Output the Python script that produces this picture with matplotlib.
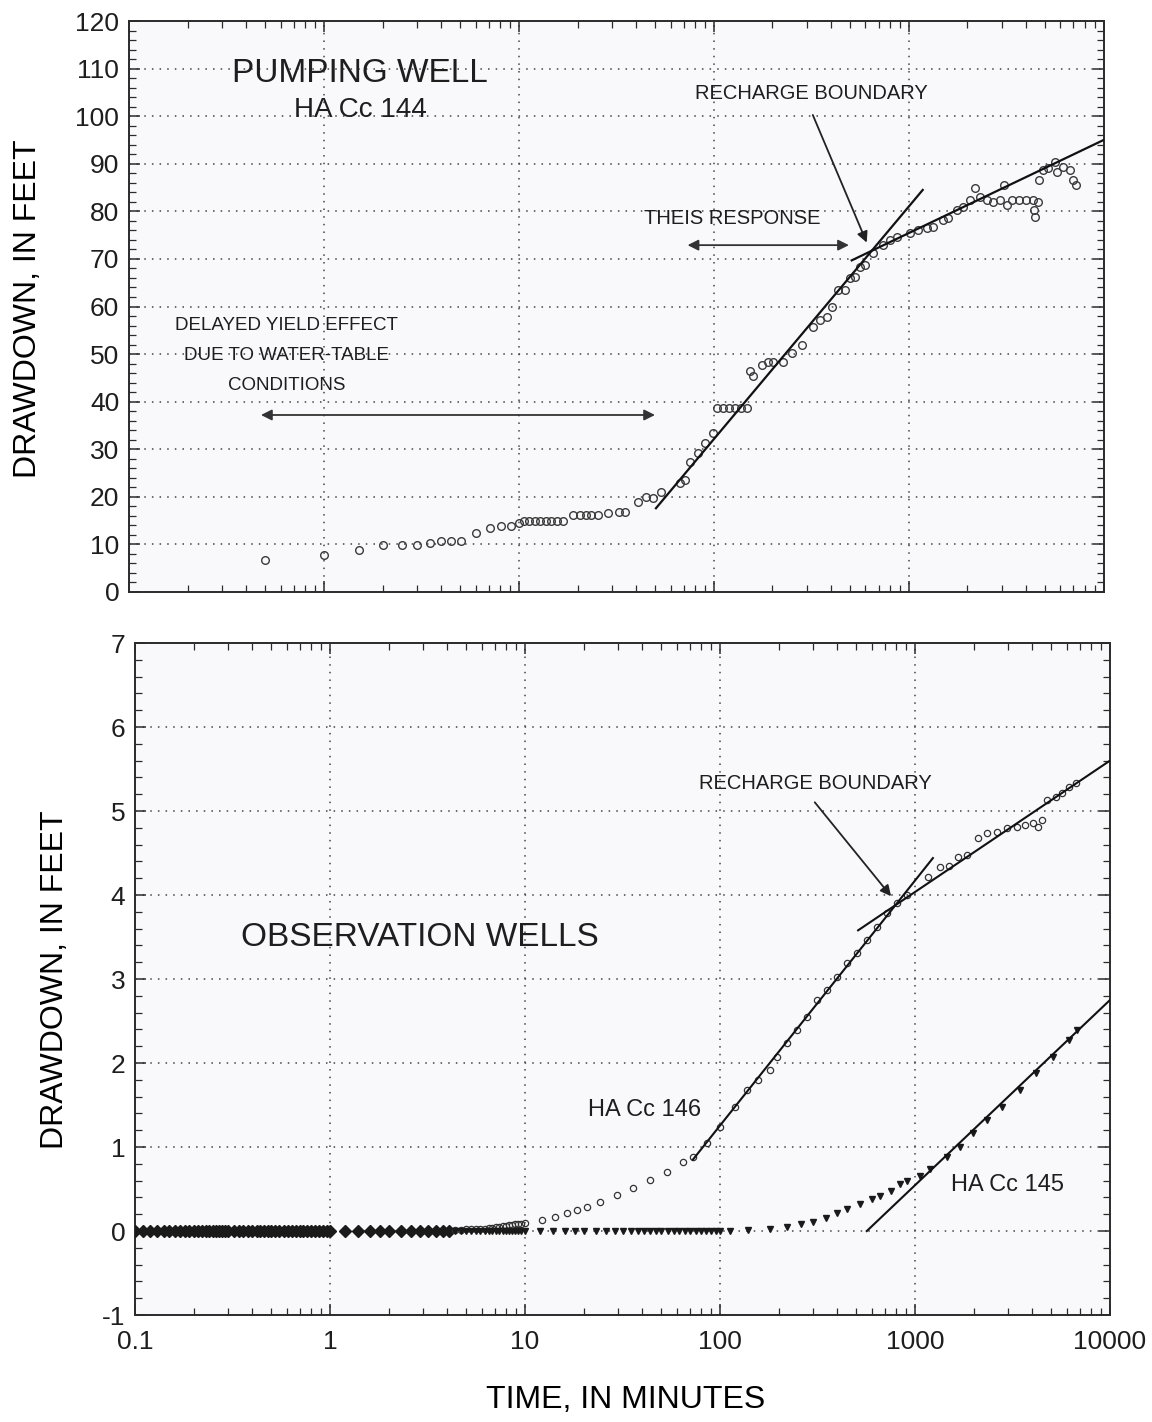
import numpy as np
import matplotlib
matplotlib.use("Agg")
import matplotlib.pyplot as plt
import matplotlib.ticker as mticker

plt.rcParams["font.family"] = ["Liberation Sans", "DejaVu Sans"]
plt.rcParams["axes.unicode_minus"] = False
NARROW = ["Liberation Sans Narrow", "Liberation Sans", "DejaVu Sans"]

# Pumping well HA Cc 144 (time in minutes, drawdown in feet)
PW_T = [0.50, 1.0, 1.51, 2.0, 2.5, 3.0, 3.5, 4.0, 4.5, 5.05, 6.0, 7.1, 8.1, 9.1, 10,
        10.6, 11.3, 12.1, 12.9, 13.8, 14.7, 15.7, 16.8,
        19, 20.5, 22, 23.5, 25.5, 28.5, 32.6, 34.9, 40.9, 44.7, 48.9, 53.6,
        67, 71, 75.4, 82.8, 90, 98.8,
        103.6, 111, 119, 128, 138, 148, 153, 158, 176, 189, 201, 226, 251, 283,
        322, 350, 380, 403, 432, 469, 498, 528, 561, 595, 655,
        737, 799, 871, 1013, 1113, 1236, 1326, 1491, 1584, 1760, 1894, 2056, 2180,
        2312, 2510, 2700, 2930, 3070, 3180, 3400, 3700, 4020, 4320, 4400, 4450, 4590,
        4650, 4870, 5170, 5620, 5750, 6180, 6700, 6950, 7220]
PW_D = [6.7, 7.7, 8.8, 9.9, 9.9, 9.9, 10.2, 10.7, 10.7, 10.7, 12.3, 13.4, 13.9, 13.9, 14.4,
        14.9, 14.9, 14.9, 14.9, 14.9, 14.9, 14.9, 14.9,
        16.1, 16.1, 16.1, 16.1, 16.1, 16.6, 16.9, 16.9, 18.9, 19.9, 19.7, 21.1,
        22.9, 23.5, 27.3, 29.2, 31.3, 33.4,
        38.7, 38.7, 38.7, 38.7, 38.7, 38.7, 46.4, 45.4, 47.7, 48.3, 48.3, 48.3, 50.2, 51.9,
        55.7, 57.1, 57.8, 59.9, 63.4, 63.4, 66.0, 66.2, 68.3, 68.7, 71.2,
        72.9, 73.9, 74.6, 75.4, 76.1, 76.5, 76.7, 78.2, 78.6, 80.3, 80.9, 82.4, 84.9,
        83.0, 82.4, 81.9, 82.4, 85.5, 81.3, 82.4, 82.4, 82.4, 82.4, 80.3, 78.8, 81.9,
        86.6, 88.7, 89.1, 90.3, 88.2, 89.3, 88.7, 86.6, 85.5]

# straight-line fits on the pumping-well plot
PW_THEIS_T = [50.5, 1180]
PW_THEIS_D = [17.6, 84.5]
PW_RECH_T = [510, 10000]
PW_RECH_D = [69.7, 95.0]

# Observation wells: early readings with no drawdown
BASE_T = [0.10, 0.11, 0.12, 0.13, 0.14, 0.15, 0.16, 0.17, 0.18, 0.19, 0.20, 0.21, 0.22,
          0.23, 0.24, 0.25, 0.26, 0.27, 0.28, 0.29, 0.30, 0.32, 0.34, 0.36, 0.38, 0.40,
          0.42, 0.44, 0.46, 0.48, 0.50, 0.52, 0.55, 0.58, 0.61, 0.64, 0.67, 0.70, 0.73,
          0.76, 0.80, 0.84, 0.88, 0.92, 0.96, 1.00, 1.2, 1.4, 1.6, 1.8, 2.0, 2.3, 2.6,
          2.9, 3.2, 3.5, 3.8, 4.1]

# HA Cc 146
OW146_T = [4.4, 4.7, 5.0, 5.3, 5.6, 5.9, 6.2, 6.5, 6.8, 7.1, 7.4, 7.7, 8.0, 8.3, 8.6,
           8.9, 9.2, 9.5, 10.0, 12.2, 14.2, 16.4, 18.5, 20.8, 24.2, 29.6, 35.8, 43.8,
           53.5, 64.6, 72.8, 85.6, 100, 119, 137, 156, 180, 196, 220, 248, 280, 315,
           354, 398, 447, 504, 567, 638, 718, 808, 908, 1160, 1340, 1500, 1660, 1840,
           2100, 2340, 2630, 2960, 3330, 3660, 4020, 4260, 4460, 4780, 5310, 5700,
           6190, 6730]
OW146_D = [0.01, 0.01, 0.02, 0.02, 0.02, 0.03, 0.03, 0.04, 0.04, 0.05, 0.05, 0.06, 0.06,
           0.07, 0.07, 0.08, 0.08, 0.09, 0.10, 0.13, 0.17, 0.21, 0.25, 0.29, 0.35, 0.43,
           0.51, 0.61, 0.70, 0.82, 0.88, 1.05, 1.24, 1.48, 1.68, 1.80, 1.92, 2.07, 2.24,
           2.39, 2.55, 2.75, 2.87, 3.02, 3.19, 3.31, 3.46, 3.62, 3.79, 3.90, 4.00, 4.21,
           4.33, 4.35, 4.45, 4.48, 4.68, 4.74, 4.75, 4.80, 4.81, 4.83, 4.86, 4.81, 4.89,
           5.13, 5.17, 5.21, 5.29, 5.33]
OW146_THEIS_T = [72.6, 1236]
OW146_THEIS_D = [0.85, 4.44]
OW146_RECH_T = [511, 10000]
OW146_RECH_D = [3.58, 5.60]

# HA Cc 145
OW145_T = [4.4, 4.7, 5.0, 5.3, 5.6, 5.9, 6.2, 6.5, 6.8, 7.1, 7.4, 7.7, 8.0, 8.3, 8.6,
           8.9, 9.2, 9.5, 10.0, 12, 14, 16, 18, 20, 23, 26, 29, 32, 35, 38, 41, 44, 47,
           50, 54, 58, 62, 66, 70, 75, 80, 85, 90, 95, 100, 113, 140, 180, 220, 260,
           300, 350, 398, 450, 520, 600, 660, 750, 840, 908, 1060, 1200, 1460, 1700,
           1990, 2340, 2800, 3440, 4200, 5100, 6200, 6800]
OW145_D = [0.0, 0.0, 0.0, 0.0, 0.0, 0.0, 0.0, 0.0, 0.0, 0.0, 0.0, 0.0, 0.0, 0.0, 0.0,
           0.0, 0.0, 0.0, 0.0, 0.0, 0.0, 0.0, 0.0, 0.0, 0.0, 0.0, 0.0, 0.0, 0.0, 0.0,
           0.0, 0.0, 0.0, 0.0, 0.0, 0.0, 0.0, 0.0, 0.0, 0.0, 0.0, 0.0, 0.0, 0.0, 0.0,
           0.0, 0.01, 0.03, 0.05, 0.08, 0.11, 0.16, 0.21, 0.26, 0.32, 0.38, 0.42, 0.48,
           0.56, 0.60, 0.66, 0.74, 0.88, 1.00, 1.17, 1.32, 1.48, 1.68, 1.88, 2.07,
           2.27, 2.39]
OW145_FIT_T = [566, 10000]
OW145_FIT_D = [0.0, 2.75]

X_TICKS = [0.1, 1, 10, 100, 1000, 10000]
X_TICK_LABELS = ["0.1", "1", "10", "100", "1000", "10000"]

INK = "#2b2b2b"
TXT = "#1e1e1e"


def style_axes(ax, ymin, ymax, ymaj, ymin_step):
    ax.set_xscale("log")
    ax.set_xlim(0.1, 10000)
    ax.set_ylim(ymin, ymax)
    ax.set_facecolor("#f9f9fb")
    ax.yaxis.set_major_locator(mticker.MultipleLocator(ymaj))
    ax.yaxis.set_minor_locator(mticker.MultipleLocator(ymin_step))
    ax.xaxis.set_major_locator(mticker.FixedLocator(X_TICKS))
    ax.xaxis.set_minor_locator(mticker.LogLocator(base=10, subs=np.arange(2, 10)))
    ax.tick_params(which="both", direction="in", top=True, right=True,
                   color=INK, labelsize=19, labelcolor=TXT)
    ax.tick_params(which="major", length=8, width=1.1)
    ax.tick_params(which="minor", length=5, width=0.9)
    ax.tick_params(axis="y", pad=7)
    ax.grid(True, which="major", color="#444444", linestyle=(0, (1, 4)), linewidth=1.1)
    for sp in ax.spines.values():
        sp.set_color(INK)
        sp.set_linewidth(1.4)


fig = plt.figure(figsize=(11.52, 14.22), dpi=100)
ax1 = fig.add_axes([0.112, 0.5837, 0.846, 0.4015])
ax2 = fig.add_axes([0.1172, 0.0752, 0.8463, 0.4726])

# ---- pumping well ----
style_axes(ax1, 0, 120, 10, 2)
ax1.set_xticklabels([])
ax1.plot(PW_T, PW_D, "o", ms=5.5, mfc="none", mec="#3a3a3a", mew=1.0, zorder=3)
ax1.plot(PW_THEIS_T, PW_THEIS_D, color="#111111", lw=1.6, zorder=4)
ax1.plot(PW_RECH_T, PW_RECH_D, color="#111111", lw=1.6, zorder=4)

ax1.text(1.53, 109, "PUMPING WELL", fontsize=24, ha="center", va="center", color=TXT)
ax1.text(1.53, 101.3, "HA Cc 144", fontsize=20, ha="center", va="center", color=TXT)
ax1.text(318, 104.8, "RECHARGE BOUNDARY", fontsize=14.5, family=NARROW,
         ha="center", va="center", color=TXT)
ax1.annotate("", xy=(617, 72.9), xytext=(318, 100.8),
             arrowprops=dict(arrowstyle="-|>", color="#222", lw=1.3, mutation_scale=16))
ax1.text(125, 78.6, "THEIS RESPONSE", fontsize=14.5, family=NARROW,
         ha="center", va="center", color=TXT)
ax1.annotate("", xy=(510, 72.9), xytext=(71, 72.9),
             arrowprops=dict(arrowstyle="<|-|>", color="#333", lw=1.3, mutation_scale=16))
for txt, yy in [("DELAYED YIELD EFFECT", 56.1), ("DUE TO WATER-TABLE", 49.8),
                ("CONDITIONS", 43.5)]:
    ax1.text(0.645, yy, txt, fontsize=13.5, family=NARROW, ha="center", va="center",
             color=TXT)
ax1.annotate("", xy=(51.6, 37.2), xytext=(0.46, 37.2),
             arrowprops=dict(arrowstyle="<|-|>", color="#333", lw=1.3, mutation_scale=16))

# ---- observation wells ----
style_axes(ax2, -1, 7, 1, 0.2)
ax2.set_xticklabels(X_TICK_LABELS)
ax2.tick_params(axis="x", pad=11)
ax2.plot(BASE_T, np.zeros(len(BASE_T)), "D", ms=6, color="#1a1a1a", zorder=3)
ax2.plot(OW146_T, OW146_D, "o", ms=4.5, mfc="none", mec="#333333", mew=0.9, zorder=3)
ax2.plot(OW145_T, OW145_D, "v", ms=4.5, color="#1a1a1a", zorder=3)
ax2.plot(OW146_THEIS_T, OW146_THEIS_D, color="#111111", lw=1.5, zorder=4)
ax2.plot(OW146_RECH_T, OW146_RECH_D, color="#111111", lw=1.5, zorder=4)
ax2.plot(OW145_FIT_T, OW145_FIT_D, color="#111111", lw=1.5, zorder=4)

ax2.text(2.89, 3.49, "OBSERVATION WELLS", fontsize=24, ha="center", va="center",
         color=TXT)
ax2.text(307, 5.33, "RECHARGE BOUNDARY", fontsize=14.5, family=NARROW,
         ha="center", va="center", color=TXT)
ax2.annotate("", xy=(770, 3.96), xytext=(300, 5.13),
             arrowprops=dict(arrowstyle="-|>", color="#222", lw=1.3, mutation_scale=16))
ax2.text(41, 1.44, "HA Cc 146", fontsize=17, family=NARROW, ha="center", va="center",
         color=TXT)
ax2.text(2965, 0.55, "HA Cc 145", fontsize=17, family=NARROW, ha="center", va="center",
         color=TXT)

fig.text(0.024, 0.783, "DRAWDOWN, IN FEET", rotation=90, fontsize=23,
         ha="center", va="center")
fig.text(0.048, 0.311, "DRAWDOWN, IN FEET", rotation=90, fontsize=23,
         ha="center", va="center")
fig.text(0.543, 0.0155, "TIME, IN MINUTES", fontsize=23, ha="center", va="center")

fig.savefig("out.png", dpi=100)
